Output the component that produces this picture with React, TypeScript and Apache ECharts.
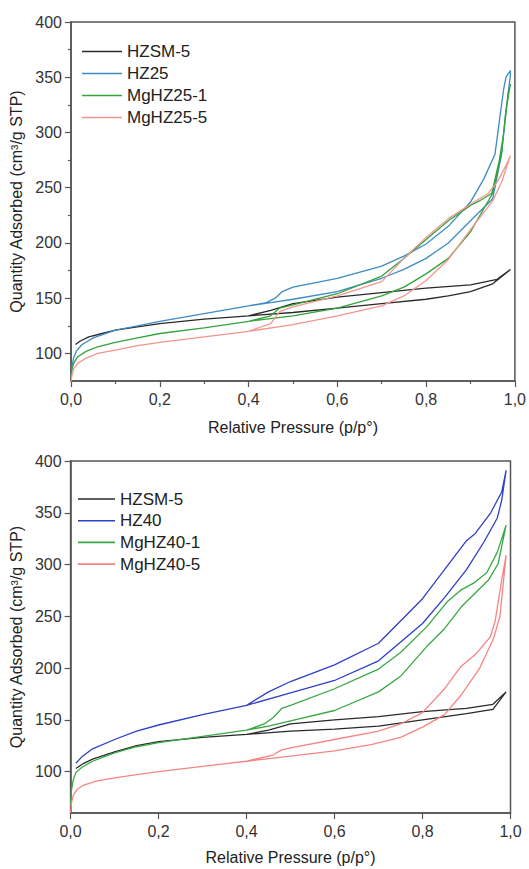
import React, { useEffect, useRef } from "react";
import * as echarts from "echarts";

// ---------- tick values ----------
const yMajorTicks = [100, 150, 200, 250, 300, 350, 400];
const yMinorTicksTop = [125, 175, 225, 275, 325, 375];

// ---------- top chart: HZ25 series (p/p°, cm³/g) ----------
const topNames = ["HZSM-5", "HZ25", "MgHZ25-1", "MgHZ25-5"];
const topHzsmAds: [number, number][] = [[0.01,108],[0.02,111],[0.04,115],[0.07,118],[0.1,121],[0.15,124],[0.2,127],[0.3,131],[0.4,134],[0.5,137],[0.6,141],[0.7,145],[0.8,149],[0.85,152],[0.9,156],[0.95,163],[0.99,176]];
const topHzsmDes: [number, number][] = [[0.99,176],[0.96,167],[0.9,162],[0.8,159],[0.7,155],[0.6,151],[0.5,145],[0.45,139],[0.4,134]];
const topHz25Ads: [number, number][] = [[0,80],[0.002,88],[0.006,96],[0.012,102],[0.025,108],[0.05,114],[0.1,121],[0.15,125],[0.2,129],[0.3,136],[0.4,143],[0.45,146],[0.5,149],[0.6,156],[0.65,162],[0.7,168],[0.75,176],[0.8,186],[0.85,200],[0.9,220],[0.95,240],[0.97,280],[0.98,320],[0.99,352]];
const topHz25Des: [number, number][] = [[0.99,356],[0.98,350],[0.975,340],[0.965,310],[0.955,280],[0.93,258],[0.9,237],[0.85,215],[0.8,199],[0.75,188],[0.7,179],[0.6,168],[0.5,160],[0.476,156],[0.46,150],[0.44,146],[0.4,143]];
const topMg1Ads: [number, number][] = [[0,78],[0.002,85],[0.006,91],[0.015,97],[0.035,102],[0.06,106],[0.1,110],[0.15,114],[0.2,118],[0.3,123],[0.4,129],[0.5,134],[0.6,141],[0.7,152],[0.75,160],[0.8,172],[0.85,186],[0.9,210],[0.95,245],[0.97,282],[0.98,320],[0.99,344]];
const topMg1Des: [number, number][] = [[0.99,344],[0.985,335],[0.975,300],[0.965,275],[0.948,245],[0.92,238],[0.9,234],[0.85,220],[0.8,203],[0.75,186],[0.7,170],[0.6,154],[0.5,144],[0.47,141],[0.45,134],[0.4,129]];
const topMg5Ads: [number, number][] = [[0,74],[0.002,80],[0.006,86],[0.015,91],[0.035,96],[0.06,100],[0.1,103],[0.15,107],[0.2,110],[0.3,115],[0.4,120],[0.5,126],[0.6,134],[0.7,143],[0.75,152],[0.8,166],[0.85,185],[0.9,212],[0.95,238],[0.97,255],[0.99,279]];
const topMg5Des: [number, number][] = [[0.99,279],[0.98,270],[0.96,255],[0.94,245],[0.9,235],[0.85,222],[0.8,205],[0.75,186],[0.7,165],[0.6,152],[0.5,142],[0.47,138],[0.45,127],[0.4,120]];

// ---------- bottom chart: HZ40 series ----------
const botNames = ["HZSM-5", "HZ40", "MgHZ40-1", "MgHZ40-5"];
const botHzsmAds: [number, number][] = [[0.012,103],[0.03,108],[0.05,112],[0.1,119],[0.15,125],[0.2,129],[0.3,133],[0.4,136],[0.5,139],[0.6,141],[0.7,144],[0.8,150],[0.9,156],[0.96,160],[0.99,177]];
const botHzsmDes: [number, number][] = [[0.99,177],[0.96,165],[0.9,161],[0.8,158],[0.7,153],[0.6,150],[0.5,146],[0.45,140],[0.4,136]];
const botHz40Ads: [number, number][] = [[0.012,108],[0.025,114],[0.05,122],[0.1,131],[0.15,139],[0.2,145],[0.3,155],[0.4,164],[0.5,176],[0.6,188],[0.7,207],[0.8,243],[0.85,268],[0.9,295],[0.94,322],[0.97,345],[0.98,362],[0.99,391]];
const botHz40Des: [number, number][] = [[0.99,391],[0.98,370],[0.955,350],[0.92,330],[0.9,323],[0.85,295],[0.8,267],[0.7,224],[0.6,203],[0.5,187],[0.45,177],[0.4,164]];
const botMg1Ads: [number, number][] = [[0,68],[0.002,82],[0.006,92],[0.012,99],[0.025,104],[0.05,110],[0.1,118],[0.15,124],[0.2,128],[0.3,134],[0.4,140],[0.45,144],[0.5,149],[0.6,159],[0.7,177],[0.75,192],[0.81,221],[0.85,238],[0.89,260],[0.95,285],[0.972,301],[0.99,338]];
const botMg1Des: [number, number][] = [[0.99,338],[0.97,312],[0.946,292],[0.916,282],[0.886,275],[0.856,264],[0.81,240],[0.75,215],[0.7,199],[0.6,180],[0.5,164],[0.48,161],[0.46,152],[0.44,146],[0.4,140]];
const botMg5Ads: [number, number][] = [[0,60],[0.002,70],[0.006,77],[0.015,83],[0.03,87],[0.06,91],[0.1,94],[0.15,97],[0.2,100],[0.3,105],[0.4,110],[0.5,115],[0.6,120],[0.683,126],[0.75,133],[0.8,143],[0.85,155],[0.886,173],[0.93,200],[0.961,228],[0.976,250],[0.99,309]];
const botMg5Des: [number, number][] = [[0.99,309],[0.98,285],[0.965,245],[0.954,230],[0.92,213],[0.886,201],[0.85,180],[0.8,157],[0.75,146],[0.7,139],[0.6,131],[0.5,123],[0.48,121],[0.46,116],[0.4,110]];

const topColors = ["#2a2a2a", "#3c8bc4", "#33a33a", "#f39590"];
const botColors = ["#2a2a2a", "#2e3fc6", "#38a843", "#f58585"];

const FONT = 'Arial, "Liberation Sans", sans-serif';
const AXIS_COLOR = "#555";

export default function App() {
  const ref = useRef<HTMLDivElement>(null);

  useEffect(() => {
    if (!ref.current) return;
    const chart = echarts.init(ref.current, null, { renderer: "svg" });

    const fmtX = (v: number) => v.toFixed(1).replace(".", ",");

    const xAxisBase = (gridIndex: number, minor: boolean, gap: number) => ({
      type: "value",
      gridIndex,
      min: 0,
      max: 1,
      interval: 0.2,
      name: "Relative Pressure (p/p°)",
      nameLocation: "middle",
      nameGap: gap,
      nameTextStyle: { fontSize: 16, color: "#222", fontFamily: FONT },
      axisLine: { lineStyle: { color: AXIS_COLOR, width: 1.5 } },
      axisTick: { show: true, length: 6, lineStyle: { color: AXIS_COLOR, width: 1.2 } },
      minorTick: { show: minor, splitNumber: 2, length: 3, lineStyle: { color: AXIS_COLOR, width: 1.2 } },
      splitLine: { show: false },
      minorSplitLine: { show: false },
      axisLabel: { formatter: fmtX, fontSize: 16, color: "#333", fontFamily: FONT, margin: 10 },
    });

    const yAxisMain = (gridIndex: number, min: number, gap: number) => ({
      type: "value",
      gridIndex,
      position: "left",
      min,
      max: 400,
      name: "Quantity Adsorbed (cm³/g STP)",
      nameLocation: "middle",
      nameGap: gap,
      nameTextStyle: { fontSize: 16, color: "#222", fontFamily: FONT },
      axisLine: { show: true, lineStyle: { color: AXIS_COLOR, width: 1.5 } },
      axisTick: { show: true, length: 6, customValues: yMajorTicks, lineStyle: { color: AXIS_COLOR, width: 1.2 } },
      axisLabel: { customValues: yMajorTicks, fontSize: 16, color: "#333", fontFamily: FONT, margin: 9 },
      splitLine: { show: false },
    });

    const mkSeries = (
      name: string,
      ads: [number, number][],
      des: [number, number][],
      color: string,
      idx: number
    ) => ({
      type: "line",
      name,
      xAxisIndex: idx,
      yAxisIndex: idx === 0 ? 0 : 2,
      data: [...ads, ...des],
      symbol: "none",
      showSymbol: false,
      smooth: false,
      silent: true,
      lineStyle: { color, width: 1.3 },
      itemStyle: { color },
    });

    const legendBase = {
      orient: "vertical",
      icon: "rect",
      itemHeight: 1.6,
      padding: 0,
      selectedMode: false,
      textStyle: { fontSize: 17, color: "#222", fontFamily: FONT, lineHeight: 20 },
    };

    const option = {
      animation: false,
      textStyle: { fontFamily: FONT },
      grid: [
        { left: 71, top: 22, width: 445.5, height: 359, show: true, borderColor: AXIS_COLOR, borderWidth: 1.5, containLabel: false },
        { left: 67.5, top: 461, width: 443, height: 352, show: true, borderColor: AXIS_COLOR, borderWidth: 1.5, containLabel: false },
      ],
      xAxis: [xAxisBase(0, true, 38), xAxisBase(1, false, 36)],
      yAxis: [
        yAxisMain(0, 75, 43),
        {
          type: "value",
          gridIndex: 0,
          position: "left",
          offset: 0,
          min: 75,
          max: 400,
          axisLine: { show: false },
          axisTick: { show: true, length: 3, customValues: yMinorTicksTop, lineStyle: { color: AXIS_COLOR, width: 1.2 } },
          axisLabel: { show: false },
          splitLine: { show: false },
        },
        yAxisMain(1, 60, 40),
      ],
      legend: [
        { ...legendBase, data: topNames, left: 82, top: 41.5, itemWidth: 40, itemGap: 2 },
        { ...legendBase, data: botNames, left: 78, top: 489, itemWidth: 37, itemGap: 1.7 },
      ],
      series: [
        mkSeries(topNames[0], topHzsmAds, topHzsmDes, topColors[0], 0),
        mkSeries(topNames[1], topHz25Ads, topHz25Des, topColors[1], 0),
        mkSeries(topNames[2], topMg1Ads, topMg1Des, topColors[2], 0),
        mkSeries(topNames[3], topMg5Ads, topMg5Des, topColors[3], 0),
        mkSeries(botNames[0], botHzsmAds, botHzsmDes, botColors[0], 1),
        mkSeries(botNames[1], botHz40Ads, botHz40Des, botColors[1], 1),
        mkSeries(botNames[2], botMg1Ads, botMg1Des, botColors[2], 1),
        mkSeries(botNames[3], botMg5Ads, botMg5Des, botColors[3], 1),
      ],
    };

    chart.setOption(option as any);
    return () => chart.dispose();
  }, []);

  return (
    <div
      ref={ref}
      style={{ position: "absolute", left: 0, top: 0, width: 529, height: 869, background: "#fff" }}
    />
  );
}
